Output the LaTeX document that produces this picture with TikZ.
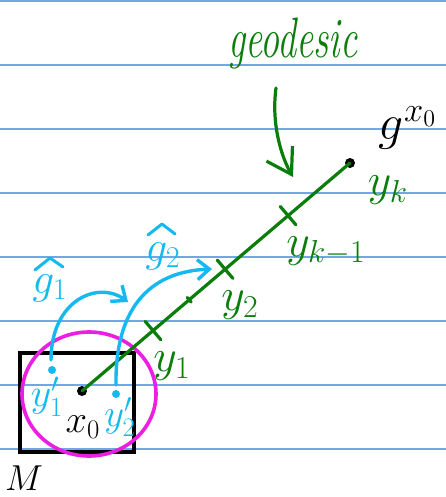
\documentclass[tikz,border=0pt]{standalone}
\usetikzlibrary{arrows.meta,calc}
\definecolor{ruleblue}{RGB}{110,168,232}
\definecolor{geogreen}{RGB}{10,125,10}
\definecolor{sky}{RGB}{20,185,240}
\definecolor{mag}{RGB}{235,30,225}
\newcommand{\hwlab}[2][1.84]{\scalebox{#1}{#2}}
\begin{document}
\begin{tikzpicture}[x=1pt,y=-1pt,
  ruleline/.style={ruleblue,line width=1.6pt},
  geoline/.style={geogreen,line width=3.2pt,line cap=round},
  tickmark/.style={geogreen,line width=3.2pt,line cap=round},
  bluearrow/.style={sky,line width=3.4pt,line cap=round,-{Straight Barb[length=12pt,width=20pt,line width=3.4pt]}},
  geoarrow/.style={geogreen,line width=3.2pt,line cap=round,-{Straight Barb[length=24pt,width=30pt,line width=3.2pt]}},
  hatmark/.style={sky,line width=3pt,line cap=round,line join=round},
  dotnode/.style={circle,fill=black,inner sep=0pt,minimum size=10pt},
  bdot/.style={circle,fill=sky,inner sep=0pt,minimum size=8pt},
  lab/.style={font=\fontsize{25}{30}\selectfont,inner sep=0pt}]
\useasboundingbox (0,0) rectangle (446,497);
\fill[white] (0,0) rectangle (446,497);
\foreach \yy in {1,65,129,193,257,321,385,449}
  \draw[ruleline] (0,\yy) -- (446,\yy);
% square M
\draw[black,line width=3.2pt] (20,353) rectangle (134,452);
% magenta neighbourhood
\draw[mag,line width=3.6pt] (89,394) ellipse [x radius=67pt, y radius=62pt];
% geodesic
\node[dotnode] (x0) at (82,391) {};
\node[dotnode] (gend) at (350,163) {};
\draw[geoline] (x0.center) -- (gend.center);
\coordinate (t1) at ($(x0.center)!0.265!(gend.center)$);
\coordinate (t2) at ($(x0.center)!0.534!(gend.center)$);
\coordinate (ts) at ($(x0.center)!0.40!(gend.center)$);
\coordinate (tk) at ($(x0.center)!0.769!(gend.center)$);
\foreach \t in {t1,t2,tk}
  \draw[tickmark] ($(\t)!12pt!90:(gend.center)$) -- ($(\t)!12pt!-90:(gend.center)$);
\draw[tickmark] ($(ts)!3pt!90:(gend.center)$) -- ($(ts)!3pt!-90:(gend.center)$);
% geodesic label and arrow
\node[geogreen,inner sep=0pt,font=\fontsize{38}{44}\selectfont] (geo) at (293,44) {\scalebox{1}[1.5]{\textit{geodesic}}};
\coordinate (ga) at (276,88);
\coordinate (gb) at (293,177);
\draw[geoarrow] (ga) .. controls (271,125) and (282,158) .. (gb);
% green labels
\node[lab,geogreen] (ly1) at (172,366) {\hwlab{$y_1$}};
\node[lab,geogreen] (ly2) at (240,305) {\hwlab{$y_2$}};
\node[lab,geogreen] (lyk1) at (326,251) {\hwlab{$y_{k-1}$}};
\node[lab,geogreen] (lyk) at (388,190) {\hwlab{$y_k$}};
% black labels
\node[lab] (lg) at (408,128) {\hwlab[2.0]{$g^{x_0}$}};
\node[lab] (lx0) at (83,427) {\hwlab[1.55]{$x_0$}};
\node[lab] (lM) at (24,478) {\hwlab[1.45]{$M$}};
% blue points and maps
\node[bdot] (y1d) at (52,370) {};
\node[bdot] (y2d) at (116,394) {};
\node[lab,sky] (ly1p) at (47,397) {\hwlab[1.6]{$y_1'$}};
\node[lab,sky] (ly2p) at (120,417) {\hwlab[1.55]{$y_2'$}};
\coordinate (a1s) at (51,360);
\coordinate (a1e) at (128,302);
\coordinate (a2s) at (116,385);
\coordinate (a2e) at (212,269);
\draw[bluearrow] (a1s) .. controls (51,300) and (98,280) .. (a1e);
\draw[bluearrow] (a2s) .. controls (115,320) and (140,272) .. (a2e);
\node[lab,sky] (lg1) at (50,288) {\hwlab[1.75]{$g_1$}};
\draw[hatmark] ($(lg1.center)+(-15,-18)$) -- ($(lg1.center)+(0,-30)$) -- ($(lg1.center)+(13,-21)$);
\node[lab,sky] (lg2) at (163,256) {\hwlab[1.75]{$g_2$}};
\draw[hatmark] ($(lg2.center)+(-15,-21)$) -- ($(lg2.center)+(-1,-32)$) -- ($(lg2.center)+(12,-22)$);
\end{tikzpicture}
\end{document}
